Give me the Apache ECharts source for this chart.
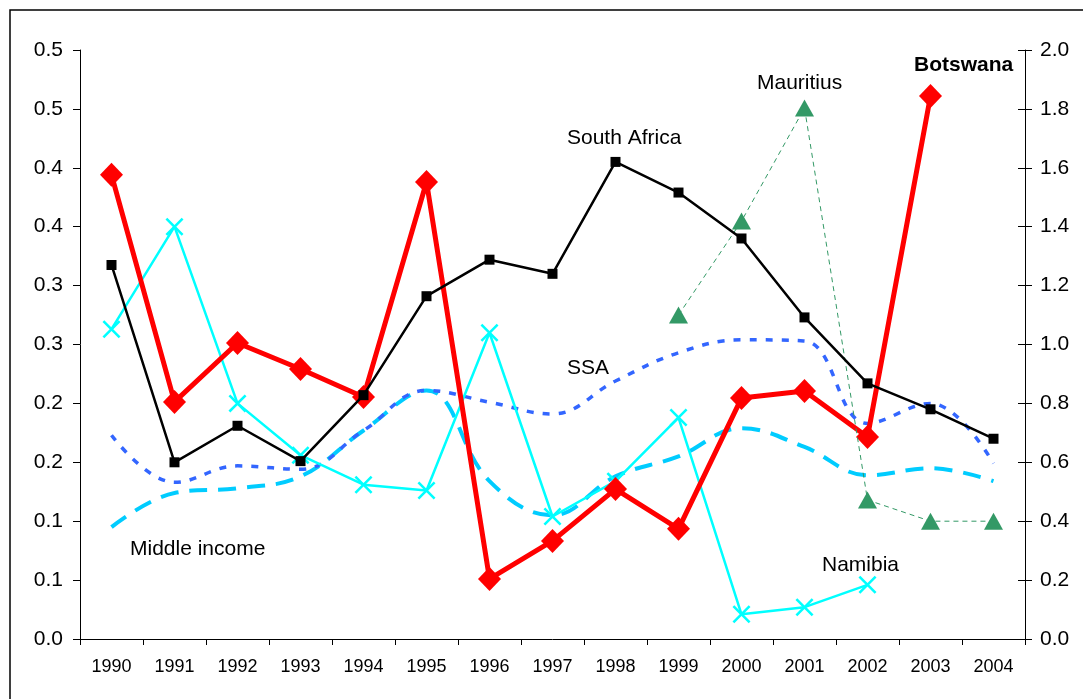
<!DOCTYPE html>
<html lang="en">
<head>
    <meta charset="UTF-8">
    <title>Southern Africa indicators</title>
    <style>
        html, body { margin: 0; padding: 0; background: #fff; }
        #container { width: 1083px; height: 699px; }
    </style>
</head>
<body>
<div id="container"></div>
<script type="text/javascript" src="https://cdn.jsdelivr.net/npm/echarts@6/dist/echarts.min.js"></script>
<script type="text/javascript">
    var years = ['1990', '1991', '1992', '1993', '1994', '1995', '1996', '1997', '1998', '1999', '2000', '2001', '2002', '2003', '2004'];

    // left axis labels as printed (0.05 steps rounded to one decimal)
    var leftTicks = ['0.0', '0.1', '0.1', '0.2', '0.2', '0.3', '0.3', '0.4', '0.4', '0.5', '0.5'];

    // right axis
    var botswana = [1.576, 0.805, 1.005, 0.917, 0.822, 1.552, 0.204, 0.333, 0.509, 0.374, 0.818, 0.842, 0.686, 1.844, null];
    var mauritius = [null, null, null, null, null, null, null, null, null, 1.10, 1.419, 1.803, 0.472, 0.40, 0.40];

    // left axis
    var southAfrica = [0.3175, 0.150, 0.181, 0.151, 0.207, 0.291, 0.322, 0.310, 0.405, 0.379, 0.340, 0.273, 0.217, 0.195, 0.170];
    var namibia = [0.263, 0.350, 0.200, 0.156, 0.131, 0.126, 0.260, 0.104, 0.134, 0.188, 0.021, 0.027, 0.046, null, null];
    var ssa = [0.173, 0.133, 0.147, 0.144, 0.177, 0.211, 0.201, 0.191, 0.219, 0.243, 0.254, 0.253, 0.183, 0.200, 0.149];
    var middleIncome = [0.095, 0.124, 0.128, 0.138, 0.177, 0.211, 0.134, 0.105, 0.138, 0.155, 0.179, 0.163, 0.139, 0.145, 0.134];

    var font = 'Liberation Sans, Arial, sans-serif';
    var crossPath = 'path://M0,1L1,0L5,4L9,0L10,1L6,5L10,9L9,10L5,6L1,10L0,9L4,5Z';

    var dom = document.getElementById('container');
    var myChart = echarts.init(dom);

    function note(x, y, text, bold) {
        return {
            type: 'text',
            x: x,
            y: y,
            style: {
                text: text,
                fill: '#000',
                font: (bold ? 'bold ' : '') + '21px ' + font,
                textVerticalAlign: 'middle'
            },
            z: 100
        };
    }

    var option = {
        animation: false,
        backgroundColor: '#fff',
        grid: {
            left: 80,
            right: 58,
            top: 50,
            bottom: 60
        },
        xAxis: {
            type: 'category',
            data: years,
            boundaryGap: true,
            axisLine: {lineStyle: {color: '#000', width: 1}},
            axisTick: {show: true, alignWithLabel: false, length: 6, lineStyle: {color: '#000'}},
            axisLabel: {color: '#000', fontFamily: font, fontSize: 18, margin: 19},
            splitLine: {show: false}
        },
        yAxis: [
            {
                type: 'value',
                position: 'left',
                min: 0,
                max: 0.5,
                interval: 0.05,
                axisLine: {show: true, lineStyle: {color: '#000', width: 1}},
                axisTick: {show: true, length: 7, lineStyle: {color: '#000'}},
                axisLabel: {
                    color: '#000', fontFamily: font, fontSize: 21, margin: 17,
                    formatter: function (v) { return leftTicks[Math.round(v / 0.05)]; }
                },
                splitLine: {show: false}
            },
            {
                type: 'value',
                position: 'right',
                min: 0,
                max: 2.0,
                interval: 0.2,
                axisLine: {show: true, lineStyle: {color: '#000', width: 1}},
                axisTick: {show: true, length: 7, lineStyle: {color: '#000'}},
                axisLabel: {
                    color: '#000', fontFamily: font, fontSize: 21, margin: 15,
                    formatter: function (v) { return v.toFixed(1); }
                },
                splitLine: {show: false}
            },
            {
                // inner half of the right axis ticks
                type: 'value',
                position: 'right',
                min: 0,
                max: 2.0,
                interval: 0.2,
                axisLine: {show: false},
                axisTick: {show: true, inside: true, length: 7, lineStyle: {color: '#000'}},
                axisLabel: {show: false},
                splitLine: {show: false}
            }
        ],
        series: [
            {
                name: 'Middle income',
                type: 'line',
                yAxisIndex: 0,
                data: middleIncome,
                smooth: 0.4,
                showSymbol: false,
                lineStyle: {color: '#00CCFF', width: 4, type: [18, 11]},
                z: 2
            },
            {
                name: 'SSA',
                type: 'line',
                yAxisIndex: 0,
                data: ssa,
                smooth: 0.4,
                showSymbol: false,
                lineStyle: {color: '#3366FF', width: 3.5, type: [7, 9]},
                z: 3
            },
            {
                name: 'Namibia',
                type: 'line',
                yAxisIndex: 0,
                data: namibia,
                symbol: crossPath,
                symbolSize: 18,
                itemStyle: {color: '#00FFFF'},
                lineStyle: {color: '#00FFFF', width: 2.5},
                z: 4
            },
            {
                name: 'Botswana',
                type: 'line',
                yAxisIndex: 1,
                data: botswana,
                symbol: 'diamond',
                symbolSize: [23, 24],
                itemStyle: {color: '#FF0000'},
                lineStyle: {color: '#FF0000', width: 5},
                z: 5
            },
            {
                name: 'Mauritius',
                type: 'line',
                yAxisIndex: 1,
                data: mauritius,
                symbol: 'triangle',
                symbolSize: [19, 17],
                itemStyle: {color: '#339966'},
                lineStyle: {color: '#339966', width: 1, type: [5, 4]},
                z: 6
            },
            {
                name: 'South Africa',
                type: 'line',
                yAxisIndex: 0,
                data: southAfrica,
                symbol: 'rect',
                symbolSize: 10,
                itemStyle: {color: '#000'},
                lineStyle: {color: '#000', width: 2.5},
                z: 7
            }
        ],
        graphic: [
            {
                type: 'rect',
                shape: {x: 10, y: 10, width: 1200, height: 800},
                style: {fill: 'none', stroke: '#000', lineWidth: 1.5},
                silent: true
            },
            note(567, 138, 'South Africa'),
            note(757, 83, 'Mauritius'),
            note(914, 65, 'Botswana', true),
            note(567, 368, 'SSA'),
            note(130, 549, 'Middle income'),
            note(822, 565, 'Namibia')
        ]
    };

    myChart.setOption(option, true);
</script>
</body>
</html>
